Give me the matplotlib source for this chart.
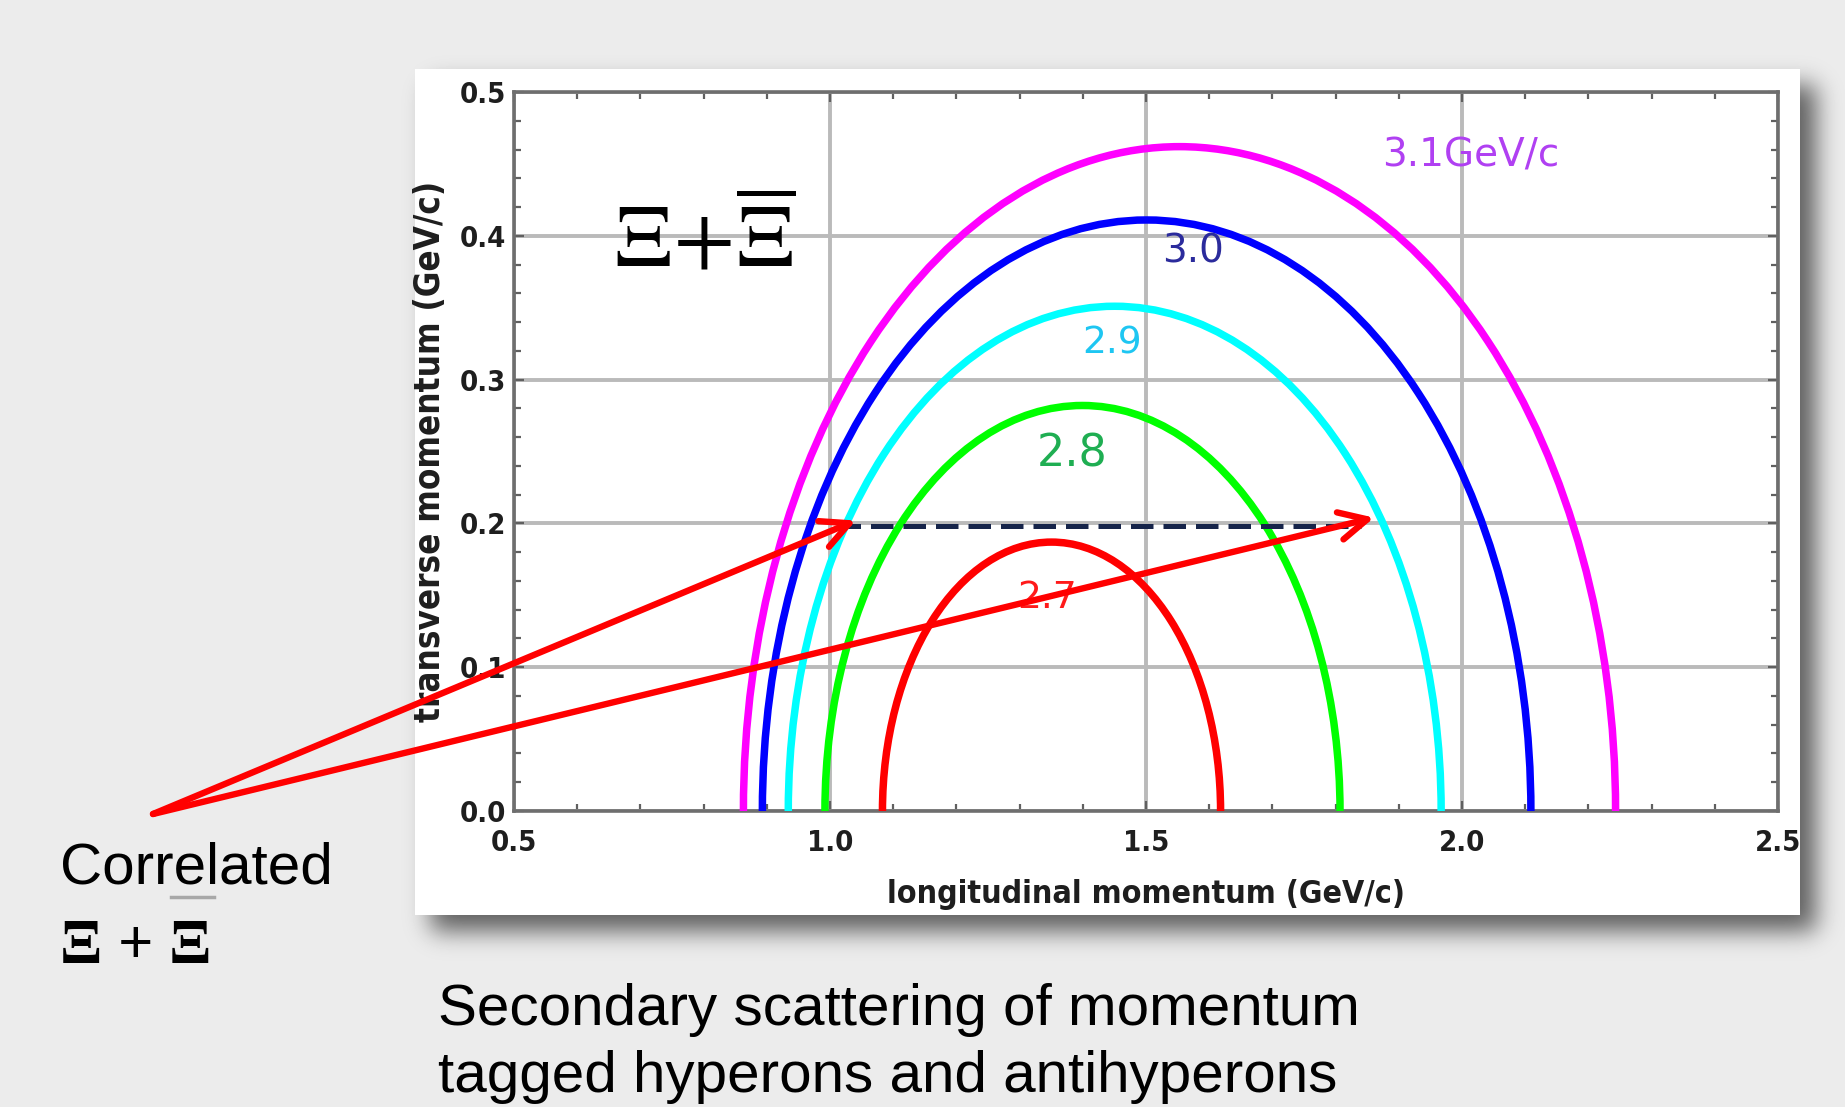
import numpy as np
import matplotlib
matplotlib.use("Agg")
import matplotlib.pyplot as plt  # noqa: E402
from matplotlib import font_manager  # noqa: E402
from matplotlib.lines import Line2D  # noqa: E402
from matplotlib.patches import Arc  # noqa: E402
from matplotlib.ticker import MultipleLocator  # noqa: E402

W, H, DPI = 1845, 1107, 100

# Kinematic ellipses (pL vs pT of the Xi) for each beam momentum.
beam_p = [2.7, 2.8, 2.9, 3.0, 3.1]
pl_min = [1.083, 0.992, 0.934, 0.893, 0.863]
pl_max = [1.618, 1.807, 1.967, 2.109, 2.243]
pt_max = [0.187, 0.282, 0.351, 0.411, 0.462]
curve_labels = ["2.7", "2.8", "2.9", "3.0", "3.1GeV/c"]
label_pl = [1.343, 1.383, 1.446, 1.574, 2.014]
label_pt = [0.148, 0.248, 0.325, 0.389, 0.456]

# dashed pT cut and the two correlated tracks the arrows point at
cut_pt = 0.198
cut_pl = [1.013, 1.840]
tip_pl = [1.041, 1.861]
tip_pt = [0.202, 0.204]

xticks = [0.5, 1.0, 1.5, 2.0, 2.5]
yticks = [0.0, 0.1, 0.2, 0.3, 0.4, 0.5]

curve_colors = ["#ff0000", "#00ff00", "#00ffff", "#0000ff", "#ff00ff"]
label_colors = ["#ff1a1a", "#1fae52", "#1ec6f2", "#2b2b9c", "#b040f2"]
label_sizes = [27, 32, 27, 28, 28]

# the original axis text is a narrow bold face; use a condensed one if present
fonts = font_manager.fontManager.ttflist
narrow = {f.name for f in fonts}
condensed = any(f.name == "DejaVu Sans" and f.stretch == "condensed"
                for f in fonts)
if "Liberation Sans Narrow" in narrow:
    axis_font = dict(family="Liberation Sans Narrow", fontstretch="normal")
    tick_size, xlabel_size, ylabel_size = 26, 27, 29
elif condensed:
    axis_font = dict(family="DejaVu Sans", fontstretch="condensed")
    tick_size, xlabel_size, ylabel_size = 21, 23, 25
else:
    axis_font = dict(family="DejaVu Sans", fontstretch="normal")
    tick_size, xlabel_size, ylabel_size = 18, 22, 23


def soft_band(lo, hi, n, sigma):
    idx = np.arange(n)
    band = ((idx >= lo) & (idx < hi)).astype(float)
    k = np.arange(-4 * sigma, 4 * sigma + 1)
    k = np.exp(-0.5 * (k / sigma) ** 2)
    return np.convolve(band, k / k.sum(), mode="same")


# slide background: grey page, white panel with a soft drop shadow
panel = (415, 69, 1800, 915)  # x0, y0, x1, y1 in pixels from top-left
shadow = np.outer(soft_band(panel[1] + 16, panel[3] + 16, H, 12),
                  soft_band(panel[0] + 16, panel[2] + 16, W, 12))
bg = 0.925 * (1 - 0.6 * shadow)
bg[panel[1]:panel[3], panel[0]:panel[2]] = 1.0

fig = plt.figure(figsize=(W / DPI, H / DPI), dpi=DPI)
bg_ax = fig.add_axes([0, 0, 1, 1])
bg_ax.imshow(bg, cmap="gray", vmin=0, vmax=1, aspect="auto",
             interpolation="nearest")
bg_ax.axis("off")

ax = fig.add_axes([514 / W, 1 - 811 / H, (1778 - 514) / W, (811 - 92) / H])
ax.set_xlim(0.5, 2.5)
ax.set_ylim(0.0, 0.5)

for lo, hi, top, c in zip(pl_min, pl_max, pt_max, curve_colors):
    ax.add_patch(Arc(((lo + hi) / 2, 0), hi - lo, 2 * top, theta1=0,
                     theta2=180, color=c, lw=5.4, zorder=3))

for x, y, s, c, fs in zip(label_pl, label_pt, curve_labels, label_colors,
                          label_sizes):
    ax.text(x, y, s, color=c, fontsize=fs, family="DejaVu Sans",
            ha="center", va="center", zorder=3)

ax.text(0.802, 0.396, r"$\Xi\!+\!\overline{\Xi}$", fontsize=64,
        math_fontfamily="stix", ha="center", va="center", zorder=3)

ax.plot(cut_pl, [cut_pt, cut_pt], color="#16244a", lw=3.6,
        linestyle=(0, (4.5, 2)), zorder=4)

origin = (153 / W, 1 - 814 / H)
for x, y in zip(tip_pl, tip_pt):
    ax.annotate("", xy=(x, y), xytext=origin, textcoords="figure fraction",
                arrowprops=dict(arrowstyle="->,head_length=1.0,head_width=0.5",
                                color="#ff0000", lw=4.6, shrinkA=0, shrinkB=0,
                                mutation_scale=20),
                annotation_clip=False, zorder=5)

ax.set_xticks(xticks)
ax.set_yticks(yticks)
ax.xaxis.set_minor_locator(MultipleLocator(0.1))
ax.yaxis.set_minor_locator(MultipleLocator(0.02))
ax.grid(True, which="major", color="#bababa", lw=2.8)
ax.set_axisbelow(True)
ax.tick_params(which="both", direction="in", top=True, right=True,
               color="#606060", width=1.6)
ax.tick_params(which="major", length=7)
ax.tick_params(which="minor", length=5)
ax.tick_params(axis="x", pad=13)
ax.tick_params(axis="y", pad=6)
for sp in ax.spines.values():
    sp.set_color("#6e6e6e")
    sp.set_linewidth(2.6)
for lab in ax.get_xticklabels() + ax.get_yticklabels():
    lab.set_family(axis_font["family"])
    lab.set_fontstretch(axis_font["fontstretch"])
    lab.set_fontweight("bold")
    lab.set_fontsize(tick_size)
    lab.set_color("#1e1e1e")
ax.set_xlabel("longitudinal momentum (GeV/c)", **axis_font,
              fontweight="bold", fontsize=xlabel_size, labelpad=16,
              color="#1e1e1e")
ax.set_ylabel("transverse momentum (GeV/c)", **axis_font,
              fontweight="bold", fontsize=ylabel_size, labelpad=9,
              color="#1e1e1e")

sans = ["Liberation Sans", "DejaVu Sans"]
fig.text(60 / W, 1 - 883 / H, "Correlated", fontsize=42, family=sans,
         va="baseline")
fig.text(60 / W, 1 - 963 / H, "Ξ + Ξ", fontsize=45,
         family=["Liberation Serif", "DejaVu Serif"], fontweight="bold",
         va="baseline")
fig.add_artist(Line2D([171 / W, 214 / W], [1 - 897 / H] * 2,
                      color="#a8a8a8", lw=2.5))
fig.text(438 / W, 1 - 1025 / H, "Secondary scattering of momentum",
         fontsize=42, family=sans, va="baseline")
fig.text(438 / W, 1 - 1092 / H, "tagged hyperons and antihyperons",
         fontsize=42, family=sans, va="baseline")

fig.savefig("out.png", dpi=DPI)
